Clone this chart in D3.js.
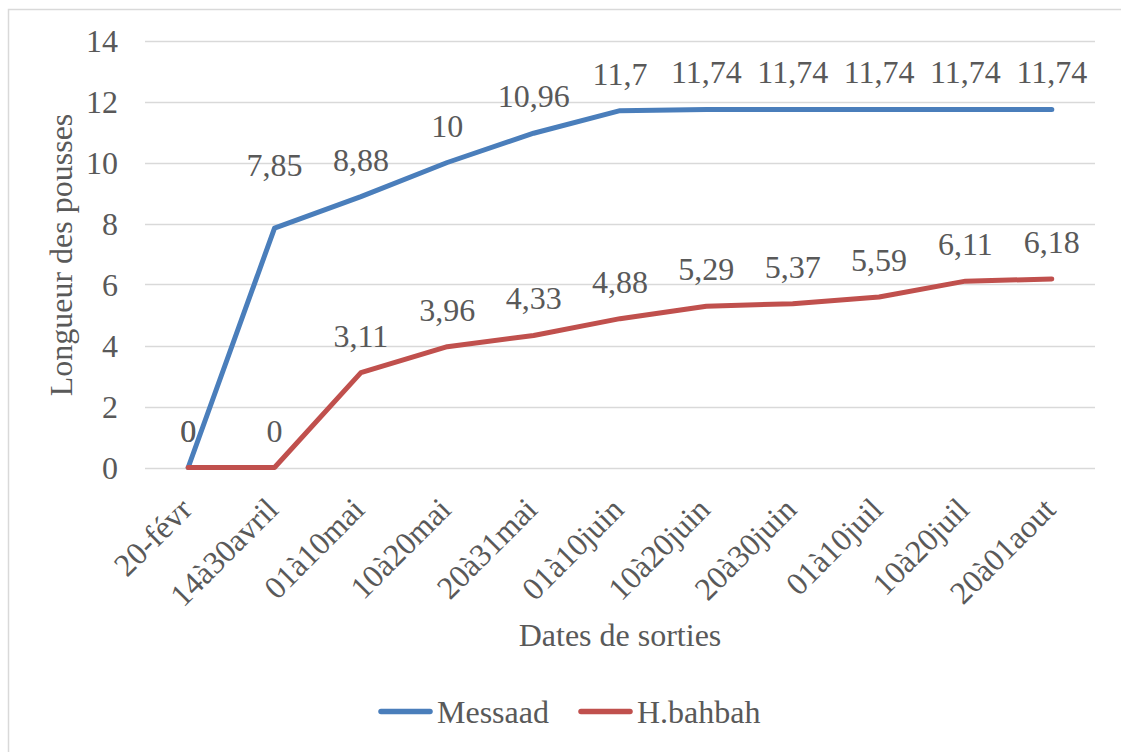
<!DOCTYPE html>
<html><head><meta charset="utf-8">
<script src="https://cdn.jsdelivr.net/npm/d3@7"></script>
<style>body{margin:0;background:#fff}svg{display:block}text{font-family:"Liberation Serif","Times New Roman",serif;fill:#595959}</style>
</head><body><div id="chart"></div>
<script>
const categories = ["20-févr","14à30avril","01à10mai","10à20mai","20à31mai","01à10juin","10à20juin","20à30juin","01à10juil","10à20juil","20à01aout"];
const messaad = [0,7.85,8.88,10,10.96,11.7,11.74,11.74,11.74,11.74,11.74];
const bahbah = [0,0,3.11,3.96,4.33,4.88,5.29,5.37,5.59,6.11,6.18];
const seriesNames = ["Messaad","H.bahbah"];
const yTicks = [0,2,4,6,8,10,12,14];

const W=1121,H=752;
const FS="32px";
const colors=["#4A7EBB","#C0504D"];
const svg=d3.select("#chart").append("svg").attr("width",W).attr("height",H);
svg.append("rect").attr("x",8.5).attr("y",9.5).attr("width",W+10).attr("height",H+10).attr("fill","#fff").attr("stroke","#d9d9d9").attr("stroke-width",1.5);

const x=d3.scalePoint().domain(categories).range([145,1095]).padding(0.5);
const y=d3.scaleLinear().domain([0,14]).range([467.5,40.5]);
const fmt=v=>String(v).replace(".",",");

// gridlines
svg.append("g").selectAll("line").data(yTicks).join("line")
  .attr("x1",145).attr("x2",1095).attr("y1",d=>Math.round(y(d))+0.5).attr("y2",d=>Math.round(y(d))+0.5)
  .attr("stroke","#d9d9d9").attr("stroke-width",1.5);

// y axis labels
const yAxis=svg.append("g").attr("transform","translate(118,0)")
  .call(d3.axisLeft(y).tickValues(yTicks).tickSize(0).tickPadding(0).tickFormat(d=>d));
yAxis.attr("font-family",null).attr("font-size",null);
yAxis.select(".domain").remove();
yAxis.selectAll("text").style("font-size",FS).attr("fill","#595959").attr("dy","0.33em");

// x axis labels
const xAxis=svg.append("g").attr("transform","translate(0,467.5)")
  .call(d3.axisBottom(x).tickSize(0).tickPadding(0));
xAxis.attr("font-family",null).attr("font-size",null);
xAxis.select(".domain").remove();
xAxis.selectAll("text").style("font-size",FS).attr("fill","#595959")
  .attr("text-anchor","end").attr("dy",null).attr("y",0)
  .attr("transform","translate(5,44) rotate(-45)");

// lines
const data=[messaad,bahbah];
const line=d3.line().x((d,i)=>x(categories[i])).y(d=>y(d));
data.forEach((s,k)=>{
  svg.append("path").datum(s).attr("d",line).attr("fill","none")
    .attr("stroke",colors[k]).attr("stroke-width",5).attr("stroke-linejoin","round").attr("stroke-linecap","round");
});
// labels
const nudge={"0-1":-26};
data.forEach((s,k)=>{
  svg.append("g").selectAll("text").data(s).join("text")
    .attr("x",(d,i)=>x(categories[i]))
    .attr("y",(d,i)=>y(d)-26+(nudge[k+"-"+i]||0))
    .attr("text-anchor","middle").style("font-size",FS).text(d=>fmt(d));
});

// axis titles
svg.append("text").attr("x",620).attr("y",646).attr("text-anchor","middle").style("font-size",FS).text("Dates de sorties");
svg.append("text").attr("transform","translate(72,255) rotate(-90)").attr("text-anchor","middle").style("font-size",FS).text("Longueur des pousses");

// legend
const leg=[[378,437],[578,637]];
seriesNames.forEach((n,k)=>{
  svg.append("line").attr("x1",leg[k][0]+3).attr("x2",leg[k][1]-7).attr("y1",711.5).attr("y2",711.5)
    .attr("stroke",colors[k]).attr("stroke-width",5.5).attr("stroke-linecap","round");
  svg.append("text").attr("x",leg[k][1]).attr("y",723).style("font-size",FS).text(n);
});
</script></body></html>
